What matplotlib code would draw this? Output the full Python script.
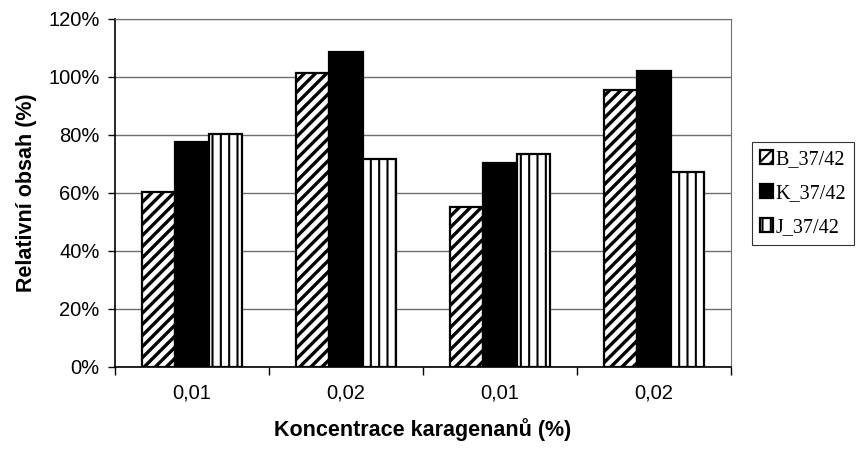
import matplotlib.pyplot as plt
import numpy as np

plt.rcParams['font.family'] = ['Liberation Sans', 'DejaVu Sans']

categories = ['0,01', '0,02', '0,01', '0,02']
series = ['B_37/42', 'K_37/42', 'J_37/42']
b_vals = [0.605, 1.013, 0.553, 0.955]
k_vals = [0.775, 1.085, 0.705, 1.022]
j_vals = [0.802, 0.716, 0.733, 0.674]
y_ticks = [0, 0.2, 0.4, 0.6, 0.8, 1.0, 1.2]

fig = plt.figure(figsize=(8.59, 4.5), dpi=100)
ax = fig.add_axes([115/859, 1-367/450, 616/859, 348/450])

x = np.arange(len(categories))
w = 0.218

plt.rcParams['hatch.linewidth'] = 2.4
b1 = ax.bar(x - w, b_vals, w, color='white', edgecolor='black', hatch='///', linewidth=1.6, zorder=3, label=series[0])
k1 = ax.bar(x, k_vals, w, color='black', edgecolor='black', linewidth=1.6, zorder=3, label=series[1])
plt.rcParams['hatch.linewidth'] = 1.5
j1 = ax.bar(x + w, j_vals, w, color='white', edgecolor='black', hatch='||', linewidth=1.6, zorder=3, label=series[2])
for p in b1:
    if hasattr(p, 'set_hatch_linewidth'):
        p.set_hatch_linewidth(2.4)
for p in j1:
    if hasattr(p, 'set_hatch_linewidth'):
        p.set_hatch_linewidth(1.5)

ax.set_xlim(-0.5, len(categories) - 0.5)
ax.set_ylim(0, 1.2)
ax.set_yticks(y_ticks)
ax.set_yticklabels(['%d%%' % round(v * 100) for v in y_ticks], fontsize=14.5)
ax.yaxis.grid(True, color='#6e6e6e', linewidth=1.0, zorder=0)

# category labels sit between the boundary ticks
ax.set_xticks(np.arange(len(categories) + 1) - 0.5)
ax.set_xticklabels([])
ax.set_xticks(x, minor=True)
ax.set_xticklabels(categories, minor=True, fontsize=14.5)
ax.tick_params(axis='x', which='minor', length=0, pad=12)
ax.tick_params(axis='x', which='major', length=6, width=1, direction='out', color='black')
ax.tick_params(axis='y', length=5, width=1, direction='out', color='black', pad=6)

ax.spines['top'].set_color('#6e6e6e')
ax.spines['right'].set_color('#6e6e6e')
ax.spines['left'].set_linewidth(1.2)
ax.spines['bottom'].set_linewidth(1.2)

ax.set_xlabel('Koncentrace karagenanů (%)', fontsize=15.5, fontweight='bold', labelpad=11)
ax.set_ylabel('Relativní obsah (%)', fontsize=15.5, fontweight='bold', labelpad=8)

leg = fig.legend(handles=[b1, k1, j1], labels=series, loc='upper left',
                 bbox_to_anchor=(752/859, 1-142/450), prop={'family': 'Liberation Serif', 'size': 14.5},
                 frameon=True, fancybox=False, handlelength=0.65, handleheight=0.65,
                 handletextpad=0.12, borderpad=0.4, labelspacing=0.75, borderaxespad=0)
leg.get_frame().set_edgecolor('black')
leg.get_frame().set_linewidth(0.8)

fig.savefig('out.png', dpi=100)
